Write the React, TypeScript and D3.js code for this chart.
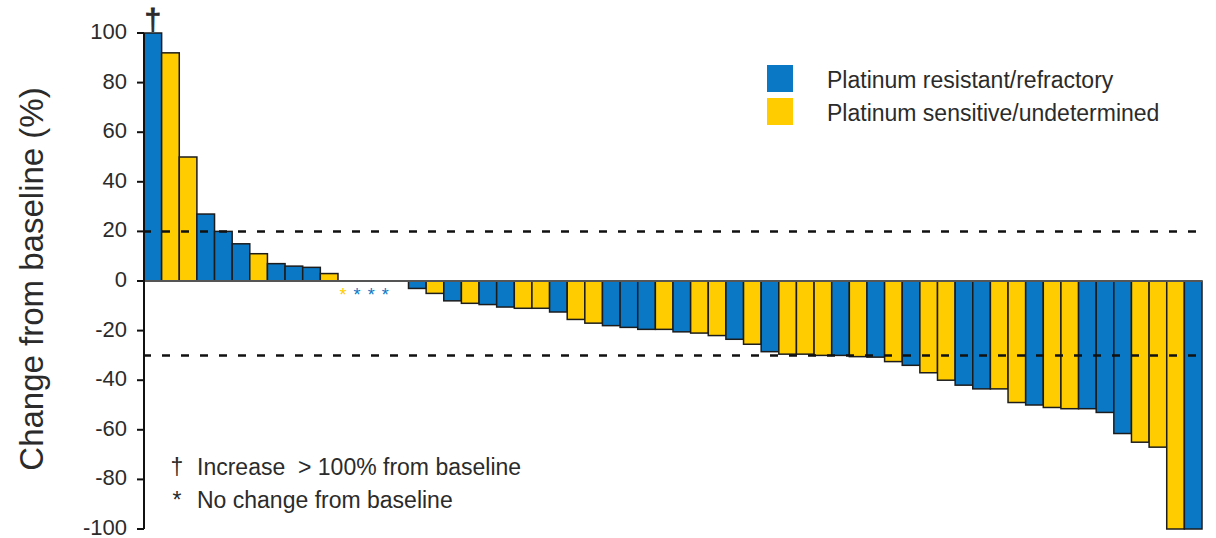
import React from "react";
import * as d3 from "d3";

// Best percentage change from baseline per patient, sorted high to low
const changeValues: number[] = [
  100, 92, 50, 27, 20, 15, 11, 7, 6, 5.5, 3,
  0, 0, 0, 0,
  -3, -5, -8, -9, -9.5, -10.5, -11, -11, -12.5, -15.5, -17, -18, -18.7, -19.5, -19.5,
  -20.5, -21, -22, -23.5, -25.5,
  -28.5, -29.5, -29.5, -30, -30, -30.5, -30.7, -32.5, -34, -37, -40, -42, -43.5, -43.5,
  -49, -50, -51, -51.5, -51.5, -53, -61.5, -65, -67, -100, -100,
];

// R = platinum resistant/refractory, S = platinum sensitive/undetermined
const platinumGroup: string[] = [
  "R", "S", "S", "R", "R", "R", "S", "R", "R", "R", "S",
  "S", "R", "R", "R",
  "R", "S", "R", "S", "R", "R", "S", "S", "R", "S", "S", "R", "R", "R", "S",
  "R", "S", "S", "R", "S",
  "R", "S", "S", "S", "R", "S", "R", "S", "R", "S", "S", "R", "R", "S",
  "S", "R", "S", "S", "R", "R", "R", "S", "S", "S", "R",
];

// Patients whose increase exceeded 100%
const overHundred: number[] = [0];

const yTicks: number[] = [100, 80, 60, 40, 20, 0, -20, -40, -60, -80, -100];
const thresholds: number[] = [20, -30];

const legendItems = [
  { key: "R", label: "Platinum resistant/refractory" },
  { key: "S", label: "Platinum sensitive/undetermined" },
];

const footnotes = [
  { mark: "\u2020", text: "Increase  > 100% from baseline" },
  { mark: "*", text: "No change from baseline" },
];

const COLORS: Record<string, string> = { R: "#0b78c6", S: "#ffcc00" };
const FONT = "'Liberation Sans', Arial, Helvetica, sans-serif";
const TEXT = "#2b2b2b";

export default function App() {
  const width = 1216;
  const height = 538;
  const left = 144;
  const right = 1202;

  const x = d3
    .scaleBand<number>()
    .domain(d3.range(changeValues.length))
    .range([left, right])
    .paddingInner(0)
    .paddingOuter(0);
  const y = d3.scaleLinear().domain([-100, 100]).range([529, 33]);
  const bw = x.bandwidth();

  const zeroIdx = changeValues
    .map((v, i) => (v === 0 ? i : -1))
    .filter((i) => i >= 0);

  return (
    <svg
      width={width}
      height={height}
      style={{ position: "absolute", left: 0, top: 0, background: "#fff" }}
      fontFamily={FONT}
    >
      {/* bars */}
      {changeValues.map((v, i) =>
        v === 0 ? null : (
          <rect
            key={i}
            x={x(i)!}
            y={Math.min(y(v), y(0))}
            width={bw}
            height={Math.abs(y(v) - y(0))}
            fill={COLORS[platinumGroup[i]]}
            stroke="#1c1c1c"
            strokeWidth={1.5}
          />
        )
      )}

      {/* baseline */}
      <line x1={left} x2={right} y1={y(0)} y2={y(0)} stroke="#555" strokeWidth={2} />

      {/* threshold lines */}
      {thresholds.map((t) => (
        <line
          key={t}
          x1={left - 1}
          x2={right}
          y1={y(t)}
          y2={y(t)}
          stroke="#111"
          strokeWidth={2.5}
          strokeDasharray="8,11"
        />
      ))}

      {/* no-change markers */}
      {zeroIdx.map((i, k) => (
        <text
          key={i}
          x={x(zeroIdx[0])! + 5 + k * bw * 0.8}
          y={y(0) + 20}
          textAnchor="middle"
          fontSize={18}
          fill={COLORS[platinumGroup[i]]}
        >
          *
        </text>
      ))}

      {/* >100% markers */}
      {overHundred.map((i) => (
        <text
          key={i}
          x={x(i)! + bw / 2}
          y={y(100) - 3}
          textAnchor="middle"
          fontSize={30}
          fill={TEXT}
          stroke={TEXT}
          strokeWidth={0.8}
        >
          {"\u2020"}
        </text>
      ))}

      {/* y axis */}
      <line x1={left} x2={left} y1={y(100)} y2={y(-100)} stroke="#111" strokeWidth={2} />
      {yTicks.map((t) => (
        <g key={t}>
          <line x1={left - 7} x2={left} y1={y(t)} y2={y(t)} stroke="#111" strokeWidth={2} />
          <text
            x={left - 17}
            y={y(t)}
            dy="0.27em"
            textAnchor="end"
            fontSize={22}
            fill={TEXT}
          >
            {t}
          </text>
        </g>
      ))}
      <text
        transform={`translate(43,${y(0) - 2}) rotate(-90)`}
        textAnchor="middle"
        fontSize={33}
        fill={TEXT}
      >
        Change from baseline (%)
      </text>

      {/* legend */}
      {legendItems.map((d, k) => (
        <g key={d.key} transform={`translate(767,${65 + k * 33})`}>
          <rect width={26} height={27} fill={COLORS[d.key]} />
          <text x={60} y={23} fontSize={23} fill={TEXT}>
            {d.label}
          </text>
        </g>
      ))}

      {/* footnotes */}
      {footnotes.map((f, k) => (
        <g key={k} transform={`translate(0,${475 + k * 33})`}>
          <text x={177} y={0} textAnchor="middle" fontSize={23} fill={TEXT}>
            {f.mark}
          </text>
          <text x={197} y={0} fontSize={23} fill={TEXT} style={{ whiteSpace: "pre" }}>
            {f.text}
          </text>
        </g>
      ))}
    </svg>
  );
}
